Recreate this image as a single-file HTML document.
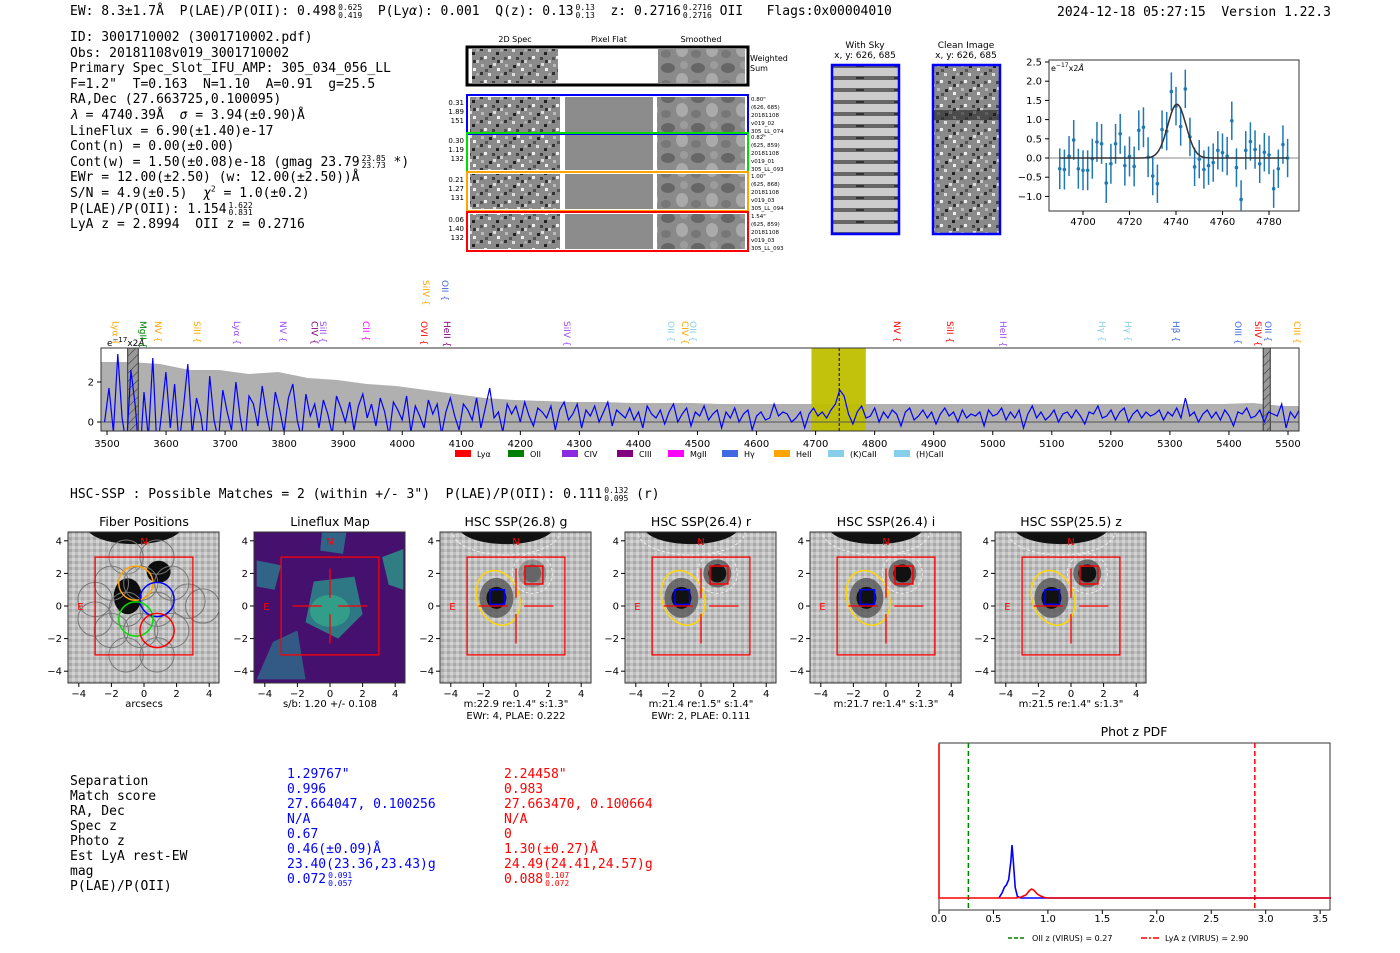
<!DOCTYPE html>
<html><head><meta charset="utf-8">
<style>
html,body{margin:0;padding:0;background:#fff;}
body{width:1400px;height:953px;position:relative;overflow:hidden;font-family:"DejaVu Sans","Liberation Sans",sans-serif;}
.mono{font-family:"DejaVu Sans Mono","Liberation Mono",monospace;font-size:13px;white-space:pre;position:absolute;line-height:15px;color:#000;}
.fr{display:inline-block;vertical-align:top;height:15px;font-size:8px;line-height:7.5px;text-align:left;margin-left:2px;}
svg{position:absolute;left:0;top:0;}
</style></head>
<body>
<svg id="g" width="1400" height="953">
<defs>
<pattern id="noise" width="24" height="24" patternUnits="userSpaceOnUse">
<rect width="24" height="24" fill="#8a8a8a"/>
<rect x="0" y="0" width="3" height="3" fill="#333"/><rect x="8" y="1" width="3" height="3" fill="#ddd"/><rect x="16" y="4" width="3" height="3" fill="#222"/><rect x="4" y="8" width="3" height="3" fill="#eee"/><rect x="12" y="9" width="3" height="3" fill="#444"/><rect x="20" y="12" width="3" height="3" fill="#ccc"/><rect x="1" y="16" width="3" height="3" fill="#bbb"/><rect x="9" y="17" width="3" height="3" fill="#222"/><rect x="17" y="20" width="3" height="3" fill="#eee"/><rect x="5" y="21" width="3" height="3" fill="#555"/><rect x="20" y="1" width="3" height="3" fill="#aaa"/><rect x="13" y="15" width="3" height="3" fill="#ddd"/><rect x="0" y="9" width="3" height="3" fill="#555"/><rect x="17" y="12" width="3" height="3" fill="#333"/>
</pattern>
<pattern id="smooth" width="30" height="30" patternUnits="userSpaceOnUse">
<rect width="30" height="30" fill="#8a8a8a"/><ellipse cx="8" cy="8" rx="7" ry="5" fill="#666"/><ellipse cx="22" cy="20" rx="6" ry="7" fill="#aaa"/><ellipse cx="6" cy="24" rx="5" ry="4" fill="#777"/><ellipse cx="24" cy="5" rx="4" ry="4" fill="#9c9c9c"/>
</pattern>
<pattern id="hscbg" width="6" height="6" patternUnits="userSpaceOnUse">
<rect width="6" height="6" fill="#c0c0c0"/><rect x="0" y="0" width="3" height="3" fill="#d4d4d4"/><rect x="3" y="3" width="3" height="3" fill="#a8a8a8"/>
</pattern>
<pattern id="sky" width="68" height="12" patternUnits="userSpaceOnUse">
<rect width="68" height="12" fill="#ccc"/><rect y="4" width="68" height="4" fill="#666"/><rect x="10" y="5" width="6" height="2" fill="#333"/><rect x="40" y="5" width="8" height="2" fill="#333"/>
</pattern>
<pattern id="hatch" width="6" height="6" patternUnits="userSpaceOnUse" patternTransform="rotate(45)">
<rect width="6" height="6" fill="#999"/><line x1="0" y1="0" x2="0" y2="6" stroke="#333" stroke-width="1"/>
</pattern>
<clipPath id="specclip"><rect x="101" y="348" width="1198" height="83"/></clipPath>
</defs>
</svg>

<div class="mono" style="left:70px;top:4px;">EW: 8.3±1.7Å  P(LAE)/P(OII): 0.498<span class="fr">0.625<br>0.419</span>  P(Ly<i>α</i>): 0.001  Q(z): 0.13<span class="fr">0.13<br>0.13</span>  z: 0.2716<span class="fr">0.2716<br>0.2716</span> OII   Flags:0x00004010</div>
<div class="mono" style="left:1057px;top:5px;">2024-12-18 05:27:15  Version 1.22.3</div>

<div class="mono" style="left:70px;top:30px;line-height:15.6px;">ID: 3001710002 (3001710002.pdf)
Obs: 20181108v019_3001710002
Primary Spec_Slot_IFU_AMP: 305_034_056_LL
F=1.2"  T=0.163  N=1.10  A=0.91  g=25.5
RA,Dec (27.663725,0.100095)
<i>λ</i> = 4740.39Å  <i>σ</i> = 3.94(±0.90)Å
LineFlux = 6.90(±1.40)e-17
Cont(n) = 0.00(±0.00)
Cont(w) = 1.50(±0.08)e-18 (gmag 23.79<span class="fr">23.85<br>23.73</span> *)
EWr = 12.00(±2.50) (w: 12.00(±2.50))Å
S/N = 4.9(±0.5)  <i>χ</i><sup style="font-size:8px;line-height:0">2</sup> = 1.0(±0.2)
P(LAE)/P(OII): 1.154<span class="fr">1.622<br>0.831</span>
LyA z = 2.8994  OII z = 0.2716</div>

<div class="mono" style="left:70px;top:487px;">HSC-SSP : Possible Matches = 2 (within +/- 3")  P(LAE)/P(OII): 0.111<span class="fr">0.132<br>0.095</span> (r)</div>

<div class="mono" style="left:70px;top:774px;">Separation
Match score
RA, Dec
Spec z
Photo z
Est LyA rest-EW
mag
P(LAE)/P(OII)</div>
<div class="mono" style="left:287px;top:767px;color:#0000ff;">1.29767"
0.996
27.664047, 0.100256
N/A
0.67
0.46(±0.09)Å
23.40(23.36,23.43)g
0.072<span class="fr">0.091<br>0.057</span></div>
<div class="mono" style="left:504px;top:767px;color:#ff0000;">2.24458"
0.983
27.663470, 0.100664
N/A
0
1.30(±0.27)Å
24.49(24.41,24.57)g
0.088<span class="fr">0.107<br>0.072</span></div>

<script>
// ===== Main spectrum data =====
const specWaveStart = 3496;
const specWaveStep = 7.41;
const specFlux = [0,1.7,-0.5,3.4,0.2,-1.2,2.6,0.8,-2,1.5,-0.8,3.2,-1.5,0.4,2.5,-0.3,1.9,-1.1,0.7,2.9,
-0.6,1.2,0.3,-1.4,2.3,0.1,-0.9,1.6,0.5,-0.4,2.0,0.2,-1.1,1.3,0.9,-0.2,1.8,0.4,-0.7,1.5,
0.6,-0.5,1.2,1.9,0.1,-0.8,1.4,0.3,0.9,-0.3,1.1,0.4,-0.6,1.3,0.7,0.0,1.0,-0.4,0.8,1.4,
0.2,0.9,-0.2,1.2,0.5,-0.7,1.0,0.6,0.1,1.3,-0.5,0.8,0.3,-0.3,1.1,0.4,0.9,-0.6,0.5,1.2,
0.3,-0.4,0.9,0.6,0.1,1.2,-0.3,0.7,1.7,0.2,0.5,-0.5,0.9,0.4,0.8,0.0,1.0,0.3,-0.2,0.7,
0.5,0.2,0.8,-0.4,0.6,1.0,0.1,0.4,0.9,-0.3,0.6,0.3,0.8,0.0,0.5,1.0,-0.2,0.6,0.4,0.2,
0.7,0.1,0.5,-0.3,0.8,0.4,0.2,0.6,-0.1,0.5,0.9,0.0,0.4,0.7,-0.2,0.5,0.3,0.8,0.1,0.4,
0.6,-0.3,0.5,0.2,0.7,0.0,0.4,0.6,-0.4,0.3,0.5,0.1,0.2,0.9,0.3,0.5,0.4,0.0,0.2,0.5,
-0.3,0.4,0.7,0.3,0.5,0.2,0.6,0.9,1.6,1.3,0.4,-0.1,0.5,0.8,0.2,0.3,0.7,0.0,0.5,0.2,
0.6,0.4,-0.2,0.5,0.7,0.1,0.3,0.6,0.2,0.5,-0.1,0.4,0.7,0.3,0.5,0.0,0.6,0.2,0.4,0.3,
0.5,-0.2,0.6,0.3,0.4,0.7,0.1,0.5,0.2,0.6,-0.3,0.4,0.8,0.2,0.5,0.1,0.3,0.6,0.0,0.4,
0.5,0.2,0.6,0.3,-0.1,0.5,0.4,0.8,0.2,0.3,0.6,0.1,0.5,0.7,0.0,0.4,0.6,0.2,0.5,0.3,
0.4,0.6,0.1,0.5,0.3,0.7,0.2,1.2,0.3,0.5,0.0,0.4,0.6,0.2,
0.5,0.1,0.6,0.3,-0.2,0.5,0.4,0.7,0.2,0.3,0.6,0.0,0.5,0.4,0.3,0.9,-0.3,0.5,0.2,0.6,0.3,-0.4,0.4];
const errWaveStart = 3490;
const errWaveStep = 50;
const specErr = [3.0,3.0,2.9,2.6,2.6,2.4,2.5,2.2,2.1,1.9,1.8,1.6,1.4,1.2,1.1,1.05,1.0,1.0,0.95,0.95,0.95,0.9,0.9,0.9,0.9,0.9,0.9,0.9,0.9,0.9,0.9,0.9,0.9,0.9,0.9,0.9,0.9,0.9,0.9,0.95,0.8,0.8];
const specXTicks = [3500,3600,3700,3800,3900,4000,4100,4200,4300,4400,4500,4600,4700,4800,4900,5000,5100,5200,5300,5400,5500];
const specYTicks = [0,2];
const lineNames = ["Lyα","MgII","NV","SiII","Lyα","NV","CIV","SiII","CII","OVI","HeII","SiIV","OII","CIV","OII","NV","SiII","HeII","Hγ","Hγ","Hβ","OIII","SiIV","OII","CIII","SiIV","OII"];
const lineWaves = [3514,3561,3586,3652,3720,3798,3851,3866,3939,4037,4076,4279,4455,4479,4492,4838,4928,5017,5185,5229,5310,5415,5449,5466,5515,4040,4072];
const lineColors = ["#ffa500","#008000","#ffa500","#ffa500","#9b4dff","#9b4dff","#800080","#9b4dff","#ff00ff","#ff0000","#800080","#9b4dff","#87ceeb","#ffa500","#87ceeb","#ff0000","#ff0000","#9b4dff","#87ceeb","#87ceeb","#4169e1","#4169e1","#ff0000","#4169e1","#ffa500","#ffa500","#4169e1"];
const lineRow = [0,0,0,0,0,0,0,0,0,0,0,0,0,0,0,0,0,0,0,0,0,0,0,0,0,1,1];
const legendNames = ["Lyα","OII","CIV","CIII","MgII","Hγ","HeII","(K)CaII","(H)CaII"];
const legendColors = ["#ff0000","#008000","#8a2be2","#800080","#ff00ff","#4169e1","#ffa500","#87ceeb","#87ceeb"];

// ===== Zoomed line fit data =====
const fitWaves = [4690,4692,4694,4696,4698,4700,4702,4704,4706,4708,4710,4712,4714,4716,4718,4720,4722,4724,4726,4728,4730,4732,4734,4736,4738,4740,4742,4744,4746,4748,4750,4752,4754,4756,4758,4760,4762,4764,4766,4768,4770,4772,4774,4776,4778,4780,4782,4784,4786,4788];
const fitFlux = [-0.28,-0.3,0.05,0.47,-0.28,-0.32,-0.32,-0.02,0.42,0.37,-0.65,-0.15,0.37,0.63,-0.2,0.04,-0.22,0.72,0.8,0.02,-0.47,-0.67,0.74,0.7,1.73,1.35,0.82,1.8,0.55,-0.23,-0.03,-0.3,-0.2,-0.12,0.2,0.14,0.05,0.97,-0.25,-1.08,0.2,0.43,0.22,-0.15,0.15,0.08,-0.8,-0.28,0.35,0.0];
const fitErr = [0.53,0.52,0.52,0.52,0.52,0.52,0.52,0.52,0.52,0.52,0.52,0.52,0.52,0.52,0.52,0.52,0.52,0.52,0.52,0.52,0.5,0.5,0.5,0.5,0.5,0.5,0.5,0.5,0.5,0.5,0.5,0.5,0.5,0.5,0.5,0.5,0.5,0.5,0.5,0.5,0.5,0.5,0.5,0.5,0.5,0.5,0.5,0.5,0.5,0.5];
const fitAmp = [1.4];
const fitCenter = [4740.4];
const fitSigma = [3.94];
const fitXTicks = [4700,4720,4740,4760,4780];
const fitYTicks = [-1.0,-0.5,0.0,0.5,1.0,1.5,2.0,2.5];

// ===== Phot z PDF data =====
const pdfBlueZ = [0.55,0.58,0.6,0.62,0.64,0.66,0.67,0.68,0.7,0.72,0.75,1.0,3.6];
const pdfBlueP = [0,0.1,0.2,0.25,0.35,0.7,1.0,0.75,0.2,0.03,0,0,0];
const pdfRedZ = [0,0.7,0.75,0.8,0.83,0.85,0.87,0.9,0.93,0.97,1.0,3.6];
const pdfRedP = [0,0,0.015,0.06,0.14,0.17,0.15,0.08,0.04,0.01,0,0];
const pdfOIIz = [0.27];
const pdfLyAz = [2.90];
const pdfXTicks = [0.0,0.5,1.0,1.5,2.0,2.5,3.0,3.5];

const NS = "http://www.w3.org/2000/svg";
const svg = document.getElementById('g');
function mk(tag, attrs, parent){
  const e = document.createElementNS(NS, tag);
  for (const k in attrs) e.setAttribute(k, attrs[k]);
  (parent||svg).appendChild(e);
  return e;
}
function txt(x,y,s,size,fill,anchor,parent){
  const t = mk('text',{x:x,y:y,'font-size':size,fill:fill||'#000','text-anchor':anchor||'middle','font-family':'DejaVu Sans, Liberation Sans, sans-serif'},parent);
  t.textContent = s; return t;
}

// ---------- 2D spectra cutouts ----------
(function(){
  const g = mk('g',{});
  
  
  txt(515,42,'2D Spec',8,'#000','middle',g);
  txt(609,42,'Pixel Flat',8,'#000','middle',g);
  txt(701,42,'Smoothed',8,'#000','middle',g);
  mk('rect',{x:467,y:47,width:281,height:38,fill:'#fff',stroke:'#000','stroke-width':3},g);
  mk('rect',{x:472,y:49,width:86,height:34,fill:'url(#noise)'},g);
  mk('rect',{x:658,y:49,width:87,height:34,fill:'url(#smooth)'},g);
  txt(750,61,'Weighted',8,'#000','start',g);
  txt(750,71,'Sum',8,'#000','start',g);
  const rows = [[95,'#0000ff',['0.31','1.89','151'],['0.80"','(626, 685)','20181108','v019_02','305_LL_074']],
                [133,'#00dd00',['0.30','1.19','132'],['0.82"','(625, 859)','20181108','v019_01','305_LL_093']],
                [172,'#ffa500',['0.21','1.27','131'],['1.00"','(625, 868)','20181108','v019_03','305_LL_094']],
                [212,'#ff0000',['0.06','1.40','132'],['1.54"','(625, 859)','20181108','v019_03','305_LL_093']]];
  rows.forEach(r=>{
    const y=r[0];
    mk('rect',{x:470,y:y+2,width:90,height:35,fill:'url(#noise)'},g);
    mk('rect',{x:565,y:y+2,width:88,height:35,fill:'#8c8c8c'},g);
    mk('rect',{x:657,y:y+2,width:88,height:35,fill:'url(#smooth)'},g);
    mk('rect',{x:467,y:y,width:281,height:39,fill:'none',stroke:r[1],'stroke-width':2},g);
    r[2].forEach((s,i)=>txt(464,y+10+i*9,s,7,'#000','end',g));
    r[3].forEach((s,i)=>txt(751,y+6+i*8,s,5.5,'#000','start',g));
  });
  txt(865,48,'With Sky',9,'#000','middle',g);
  txt(865,58,'x, y: 626, 685',9,'#000','middle',g);
  mk('rect',{x:832,y:65,width:67,height:169,fill:'url(#sky)',stroke:'#0000ff','stroke-width':2.5},g);
  txt(966,48,'Clean Image',9,'#000','middle',g);
  txt(966,58,'x, y: 626, 685',9,'#000','middle',g);
  mk('rect',{x:933,y:65,width:67,height:169,fill:'url(#noise)',stroke:'#0000ff','stroke-width':2.5},g);
  mk('rect',{x:934,y:110,width:65,height:10,fill:'#222',opacity:0.6},g);
})();

// ---------- Zoomed fit plot ----------
(function(){
  const g = mk('g',{});
  
  
  const X = w => 1083 + (w-4700)*2.325;
  const Y = v => 158 - v*38.4;
  mk('rect',{x:1049,y:60,width:250,height:151,fill:'#fff',stroke:'#333','stroke-width':1},g);
  mk('line',{x1:1049,x2:1299,y1:Y(0),y2:Y(0),stroke:'#888','stroke-width':1},g);
  fitXTicks.forEach(t=>{mk('line',{x1:X(t),x2:X(t),y1:211,y2:215,stroke:'#000'},g);txt(X(t),225,String(t),10,'#000','middle',g);});
  fitYTicks.forEach(t=>{if(Y(t)<211){mk('line',{x1:1045,x2:1049,y1:Y(t),y2:Y(t),stroke:'#000'},g);txt(1042,Y(t)+3.5,(t<0?'−':'')+Math.abs(t).toFixed(1),10,'#000','end',g);}});
  const eb = mk('g',{},g);
  
  
  fitWaves.forEach((w,i)=>{
    mk('line',{x1:X(w),x2:X(w),y1:Math.min(211,Y(fitFlux[i]-fitErr[i])),y2:Y(fitFlux[i]+fitErr[i]),stroke:'#1f77b4','stroke-width':1.5},eb);
    mk('circle',{cx:X(w),cy:Y(fitFlux[i]),r:1.8,fill:'#1f77b4'},eb);
  });
  let d='';
  for(let w=fitWaves[0]; w<=fitWaves[fitWaves.length-1]; w+=0.5){
    const v = fitAmp[0]*Math.exp(-0.5*Math.pow((w-fitCenter[0])/fitSigma[0],2));
    d += (d?'L':'M')+X(w).toFixed(1)+','+Y(v).toFixed(1);
  }
  const p = mk('path',{d:d,fill:'none',stroke:'#333','stroke-width':1.5},g);
  
  
  const lab = txt(1051,71,'e',8,'#000','start',g);
  lab.innerHTML = 'e<tspan dy="-4" font-size="6">−17</tspan><tspan dy="4">x2</tspan><tspan font-style="italic">Å</tspan>';
})();

// ---------- Main spectrum ----------
(function(){
  const g = mk('g',{});
  
  
  const X = w => 107 + (w-3500)*0.5905;
  const Y = v => 422 - v*20;
  const cg = mk('g',{'clip-path':'url(#specclip)'},g);
  let up='', lo='';
  specErr.forEach((e,i)=>{const w=errWaveStart+i*errWaveStep; up+=(up?'L':'M')+X(w).toFixed(1)+','+Y(e).toFixed(1);});
  for(let i=specErr.length-1;i>=0;i--){const w=errWaveStart+i*errWaveStep; lo+='L'+X(w).toFixed(1)+','+Y(-specErr[i]).toFixed(1);}
  const band = mk('path',{d:up+lo+'Z',fill:'#b0b0b0'},cg);
  
  
  const hl = mk('rect',{x:X(4693),y:348,width:X(4785)-X(4693),height:83,fill:'#bfbf00',opacity:0.95},cg);
  
  
  mk('rect',{x:X(3535),y:348,width:X(3553)-X(3535),height:83,fill:'url(#hatch)',stroke:'#333'},cg);
  mk('rect',{x:X(5458),y:348,width:X(5470)-X(5458),height:83,fill:'url(#hatch)',stroke:'#333'},cg);
  mk('line',{x1:101,x2:1299,y1:Y(0),y2:Y(0),stroke:'#555','stroke-width':1},cg);
  mk('line',{x1:X(4740),x2:X(4740),y1:348,y2:431,stroke:'#000','stroke-dasharray':'3,2','stroke-width':1},cg);
  let d='';
  specFlux.forEach((v,i)=>{const w=specWaveStart+i*specWaveStep; d+=(d?'L':'M')+X(w).toFixed(1)+','+Y(v).toFixed(1);});
  const ln = mk('path',{d:d,fill:'none',stroke:'#0000ff','stroke-width':1.2},cg);
  
  
  mk('rect',{x:101,y:348,width:1198,height:83,fill:'none',stroke:'#333','stroke-width':1},g);
  specXTicks.forEach(t=>{mk('line',{x1:X(t),x2:X(t),y1:431,y2:435,stroke:'#000'},g);txt(X(t),447,String(t),10,'#000','middle',g);});
  specYTicks.forEach(t=>{mk('line',{x1:97,x2:101,y1:Y(t),y2:Y(t),stroke:'#000'},g);txt(94,Y(t)+3.5,String(t),10,'#000','end',g);});
  const lab = txt(107,346,'',9,'#000','start',g);
  lab.innerHTML = 'e<tspan dy="-4" font-size="7">−17</tspan><tspan dy="4">x2</tspan><tspan font-style="italic">Å</tspan>';
  lineNames.forEach((n,i)=>{
    const x = X(lineWaves[i]);
    const top = lineRow[i] ? 280 : 321;
    const t = mk('text',{x:x,y:top,'font-size':9,fill:lineColors[i],'font-family':'DejaVu Sans, sans-serif'},g);
    t.setAttribute('transform','rotate(90 '+x+' '+top+') translate(0 3)');
    t.textContent = n + '  {';
    
    
  });
  const lx = [455,508,562,617,668,722,774,828,894];
  legendNames.forEach((n,i)=>{
    const lg = mk('g',{},g);
    
    
    mk('rect',{x:lx[i],y:450,width:16,height:7,fill:legendColors[i]},lg);
    txt(lx[i]+22,457,n,8,'#000','start',lg);
  });
})();

// ---------- Imaging panels ----------
(function(){
  const titles = ['Fiber Positions','Lineflux Map','HSC SSP(26.8) g','HSC SSP(26.4) r','HSC SSP(26.4) i','HSC SSP(25.5) z'];
  const x0s = [68,254,440,625,810,995];
  const sub1 = ['arcsecs','s/b: 1.20 +/- 0.108','m:22.9  re:1.4"  s:1.3"','m:21.4  re:1.5"  s:1.4"','m:21.7  re:1.4"  s:1.3"','m:21.5  re:1.4"  s:1.3"'];
  const sub2 = ['','','EWr: 4, PLAE: 0.222','EWr: 2, PLAE: 0.111','',''];
  const S = 16.3;
  titles.forEach((tt,k)=>{
    const g = mk('g',{});
    
    
    const x0=x0s[k], cx=x0+76, cy=606;
    const X=a=>cx+a*S, Y=a=>cy-a*S;
    const cp = mk('clipPath',{id:'pc'+k});
    mk('rect',{x:x0,y:532,width:151,height:151},cp);
    txt(cx,526,tt,12.5,'#000','middle',g);
    const ig = mk('g',{'clip-path':'url(#pc'+k+')'},g);
    if(k===1){
      mk('rect',{x:x0,y:532,width:151,height:151,fill:'#46106e'},ig);
      mk('polygon',{points:[X(-1),Y(1.5),X(1.5),Y(1.8),X(2),Y(-0.5),X(0.5),Y(-2),X(-1.5),Y(-1)].join(' '),fill:'#2a8a8a',opacity:0.85},ig);
      mk('polygon',{points:[X(-3.5),Y(-2.2),X(-2),Y(-1.5),X(-1.5),Y(-4.5),X(-4.5),Y(-4.5)].join(' '),fill:'#2a7a8e',opacity:0.7},ig);
      mk('polygon',{points:[X(-0.5),Y(4.5),X(1),Y(4.5),X(0.8),Y(3.2),X(-0.6),Y(3.4)].join(' '),fill:'#2a7a8e',opacity:0.8},ig);
      mk('polygon',{points:[X(3.2),Y(3),X(4.5),Y(3.5),X(4.5),Y(1),X(3.6),Y(1.3)].join(' '),fill:'#2a9a8a',opacity:0.8},ig);
      mk('polygon',{points:[X(-4.5),Y(2.8),X(-3),Y(2.5),X(-3.4),Y(1),X(-4.5),Y(1.2)].join(' '),fill:'#2a7a8e',opacity:0.8},ig);
      mk('ellipse',{cx:X(0),cy:Y(-0.3),rx:20,ry:16,fill:'#35b78a',opacity:0.6},ig);
    } else {
      mk('rect',{x:x0,y:532,width:151,height:151,fill:'url(#hscbg)'},ig);
      mk('ellipse',{cx:X(-0.6),cy:Y(4.9),rx:48,ry:18,fill:'#111'},ig);
      if(k>0) mk('ellipse',{cx:X(-0.6),cy:Y(4.6),rx:54,ry:24,fill:'none',stroke:'#eee','stroke-dasharray':'3,2'},ig);
      if(k===0){
        mk('ellipse',{cx:X(-1),cy:Y(0.6),rx:14,ry:18,fill:'#0d0d0d'},ig);
        mk('ellipse',{cx:X(0.9),cy:Y(2.1),rx:12,ry:11,fill:'#0d0d0d'},ig);
      } else {
        mk('ellipse',{cx:X(-1.2),cy:Y(0.5),rx:17,ry:20,fill:'#555',opacity:0.8},ig);
        mk('ellipse',{cx:X(-1.2),cy:Y(0.5),rx:10,ry:11,fill:'#111'},ig);
        mk('ellipse',{cx:X(1),cy:Y(2),rx:14,ry:14,fill:'#555',opacity:k===2?0.4:0.8},ig);
        mk('ellipse',{cx:X(1),cy:Y(2),rx:9,ry:9,fill:k===2?'#666':'#111'},ig);
        mk('ellipse',{cx:X(-1.1),cy:Y(0.5),rx:21,ry:28,fill:'none',stroke:'#ffd700','stroke-width':1.5,transform:'rotate(-20 '+X(-1.1)+' '+Y(0.5)+')'},ig);
        mk('circle',{cx:X(1),cy:Y(2),r:20,fill:'none',stroke:'#eee','stroke-dasharray':'3,2'},ig);
        mk('rect',{x:X(-1.6),y:Y(1),width:S*0.9,height:S*0.9,fill:'none',stroke:'#0000ff','stroke-width':1.5},ig);
        mk('rect',{x:X(0.55),y:Y(2.45),width:S*1.1,height:S*1.1,fill:'none',stroke:'#ff0000','stroke-width':1.5},ig);
      }
    }
    if(k===0){
      const fib=[[-1.1,3],[0.8,3],[-2.0,1.4],[-0.2,1.4],[1.7,1.4],[-3.0,0.4],[-1.1,-0.2],[0.8,-0.2],[2.7,0.3],[-2.0,-1.5],[-0.2,-1.5],[1.7,-1.5],[-1.1,-3],[0.8,-3],[3.6,0],[-3,-0.8]];
      fib.forEach(f=>mk('circle',{cx:X(f[0]),cy:Y(f[1]),r:S*1.05,fill:'none',stroke:'#777','stroke-width':1},ig));
      [['#ffa500',-0.5,1.4],['#0000ff',0.8,0.4],['#00dd00',-0.5,-0.8],['#ff0000',0.8,-1.5]].forEach(c=>mk('circle',{cx:X(c[1]),cy:Y(c[2]),r:S*1.05,fill:'none',stroke:c[0],'stroke-width':1.5},ig));
    }
    mk('rect',{x:X(-3),y:Y(3),width:6*S,height:6*S,fill:'none',stroke:'#ff0000','stroke-width':1.3},ig);
    if(k>0){
      [[-2.3,-0.5],[0.5,2.3]].forEach(s=>{mk('line',{x1:X(s[0]),x2:X(s[1]),y1:cy,y2:cy,stroke:'#ff0000','stroke-width':1.3},ig);mk('line',{y1:Y(s[0]),y2:Y(s[1]),x1:cx,x2:cx,stroke:'#ff0000','stroke-width':1.3},ig);});
    }
    txt(cx,Y(4)+4,'N',10,'#ff0000','middle',ig);
    txt(X(-3.9),cy+4,'E',10,'#ff0000','middle',ig);
    mk('rect',{x:x0,y:532,width:151,height:151,fill:'none',stroke:'#333'},g);
    [-4,-2,0,2,4].forEach(t=>{
      const s=(t<0?'−':'')+Math.abs(t);
      mk('line',{x1:X(t),x2:X(t),y1:683,y2:687,stroke:'#000'},g);txt(X(t),697,s,10,'#000','middle',g);
      mk('line',{x1:x0-4,x2:x0,y1:Y(t),y2:Y(t),stroke:'#000'},g);txt(x0-6,Y(t)+3.5,s,10,'#000','end',g);
    });
    txt(cx,707,sub1[k],10,'#000','middle',g);
    if(sub2[k]) txt(cx,719,sub2[k],10,'#000','middle',g);
  });
})();

// ---------- Phot z PDF ----------
(function(){
  const g = mk('g',{});
  
  
  const X = z => 939 + z*108.9;
  const Y = p => 898 - p*53;
  txt(1134,736,'Phot z PDF',12.5,'#000','middle',g);
  mk('rect',{x:939,y:743,width:391,height:167,fill:'#fff',stroke:'#333'},g);
  const oii = mk('line',{x1:X(pdfOIIz[0]),x2:X(pdfOIIz[0]),y1:743,y2:910,stroke:'#008000','stroke-width':1.5,'stroke-dasharray':'5,3'},g);
  
  
  const lya = mk('line',{x1:X(pdfLyAz[0]),x2:X(pdfLyAz[0]),y1:743,y2:910,stroke:'#ff0000','stroke-width':1.5,'stroke-dasharray':'5,3'},g);
  
  
  let d='';
  pdfBlueZ.forEach((z,i)=>{d+=(d?'L':'M')+X(z).toFixed(1)+','+Y(pdfBlueP[i]).toFixed(1);});
  const b = mk('path',{d:d,fill:'none',stroke:'#0000ff','stroke-width':1.6},g);
  
  
  d='M'+X(0)+',744';
  pdfRedZ.forEach((z,i)=>{d+='L'+X(z).toFixed(1)+','+Y(pdfRedP[i]).toFixed(1);});
  const r = mk('path',{d:d,fill:'none',stroke:'#ff0000','stroke-width':1.6},g);
  
  
  pdfXTicks.forEach(t=>{mk('line',{x1:X(t),x2:X(t),y1:910,y2:914,stroke:'#000'},g);txt(X(t),922,t.toFixed(1),10,'#000','middle',g);});
  const lg1 = mk('g',{},g);
  
  
  mk('line',{x1:1008,x2:1026,y1:938,y2:938,stroke:'#008000','stroke-width':1.5,'stroke-dasharray':'4,2'},lg1);
  txt(1032,941,'OII z (VIRUS) = 0.27',8,'#000','start',lg1);
  const lg2 = mk('g',{},g);
  
  
  mk('line',{x1:1141,x2:1159,y1:938,y2:938,stroke:'#ff0000','stroke-width':1.5,'stroke-dasharray':'6,2,2,2'},lg2);
  txt(1165,941,'LyA z (VIRUS) = 2.90',8,'#000','start',lg2);
})();
</script>
</body></html>
